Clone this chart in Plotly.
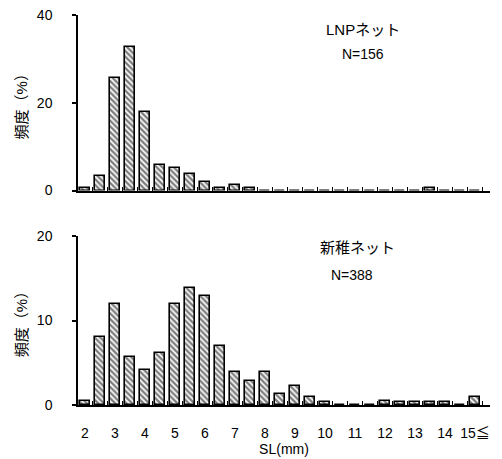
import plotly.graph_objects as go

# bins (mm), 0.5 mm wide; last bin is "15 and above"
bins = [2.0, 2.5, 3.0, 3.5, 4.0, 4.5, 5.0, 5.5, 6.0, 6.5, 7.0, 7.5, 8.0, 8.5,
        9.0, 9.5, 10.0, 10.5, 11.0, 11.5, 12.0, 12.5, 13.0, 13.5, 14.0, 14.5, 15.0]
lnp_pct = [0.6, 3.2, 25.6, 32.7, 17.9, 5.8, 5.1, 3.8, 1.9, 0.6, 1.3, 0.6, 0, 0,
           0, 0, 0, 0, 0, 0, 0, 0, 0, 0.6, 0, 0, 0]
shinchi_pct = [0.5, 8.0, 11.9, 5.7, 4.1, 6.2, 11.9, 13.9, 12.9, 7.0, 3.9, 2.8, 3.9, 1.3,
               2.3, 1.0, 0.3, 0, 0, 0, 0.5, 0.3, 0.3, 0.3, 0.3, 0, 1.0]
tick_vals = [2, 3, 4, 5, 6, 7, 8, 9, 10, 11, 12, 13, 14, 15]
tick_text = ["2", "3", "4", "5", "6", "7", "8", "9", "10", "11", "12", "13", "14", "15≦"]
boundaries = [b + 0.25 for b in bins]

FONT = "Liberation Sans, Arial, Noto Sans CJK JP, sans-serif"

def bar(y, xa, ya):
    return go.Bar(
        x=bins, y=y, xaxis=xa, yaxis=ya, width=0.34,
        marker=dict(color="white",
                    line=dict(color="black", width=1.6),
                    pattern=dict(shape="\\", fgcolor="black", bgcolor="white",
                                 size=4, solidity=0.6)),
        showlegend=False, hoverinfo="skip")

fig = go.Figure()
fig.add_trace(bar(lnp_pct, "x", "y"))
fig.add_trace(bar(shinchi_pct, "x2", "y2"))

xcommon = dict(range=[1.767, 15.5], showline=True, linecolor="black", linewidth=1.5,
               showgrid=False, zeroline=False, ticks="", automargin=False,
               tickvals=tick_vals, ticktext=tick_text,
               minor=dict(tickvals=boundaries, ticks="inside", ticklen=4,
                          tickcolor="black", tickwidth=1, showgrid=False),
               tickfont=dict(size=14, color="black", family=FONT))
ycommon = dict(showline=True, linecolor="black", linewidth=1.5, showgrid=False,
               zeroline=False, ticks="outside", ticklen=4, tickcolor="black",
               tickwidth=1.5, ticklabelstandoff=17, automargin=False,
               tickfont=dict(size=14, color="black", family=FONT),
               title=dict(text="頻度（%）", standoff=6,
                          font=dict(size=15, color="black", family=FONT)))

fig.update_layout(
    width=502, height=459,
    margin=dict(l=78, r=12, t=15, b=54),
    paper_bgcolor="white", plot_bgcolor="white",
    font=dict(family=FONT, color="black"),
    bargap=0,
    xaxis=dict(**xcommon, anchor="y", showticklabels=False),
    yaxis=dict(**ycommon, domain=[0.55, 1.0], range=[0, 40], tickvals=[0, 20, 40]),
    xaxis2=dict(**xcommon, anchor="y2", ticklabelstandoff=14,
                title=dict(text="SL(mm)", standoff=2,
                           font=dict(size=14, color="black", family=FONT))),
    yaxis2=dict(**ycommon, domain=[0, 0.4333], range=[0, 20], tickvals=[0, 10, 20]),
    annotations=[
        dict(text="LNPネット", x=11.25, y=36.7, xref="x", yref="y", showarrow=False,
             font=dict(size=15, color="black", family=FONT)),
        dict(text="N=156", x=11.25, y=31.0, xref="x", yref="y", showarrow=False,
             font=dict(size=14, color="black", family=FONT)),
        dict(text="新稚ネット", x=11.07, y=18.6, xref="x2", yref="y2", showarrow=False,
             font=dict(size=15, color="black", family=FONT)),
        dict(text="N=388", x=10.9, y=15.4, xref="x2", yref="y2", showarrow=False,
             font=dict(size=14, color="black", family=FONT)),
    ],
)

fig.write_html("out.html", config={"displayModeBar": False},
               post_script="document.body.style.margin='0';document.body.style.overflow='hidden';")
